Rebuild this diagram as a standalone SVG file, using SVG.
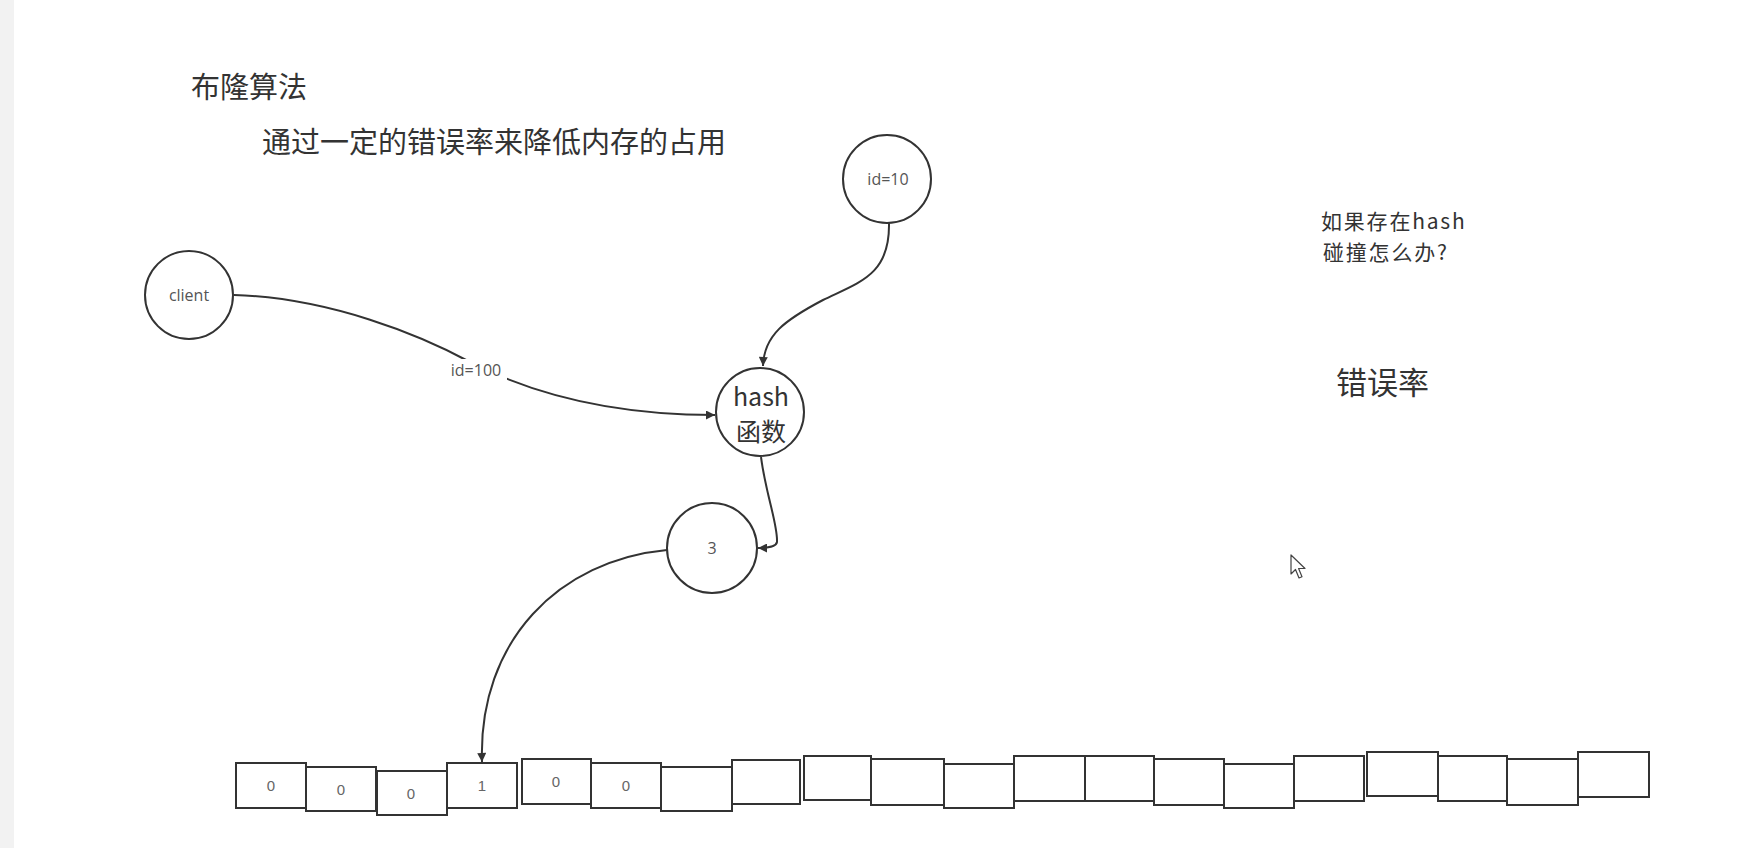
<svg xmlns="http://www.w3.org/2000/svg" width="1742" height="848" viewBox="0 0 1742 848">
<style>
.node{fill:#fff;stroke:#333;stroke-width:2}
.edge{fill:none;stroke:#333;stroke-width:2}
.cell{fill:#fff;stroke:#333;stroke-width:2}
.cjk{font-family:"Noto Sans CJK SC","Microsoft YaHei",sans-serif;fill:#333}
.small{font-family:"Open Sans","Liberation Sans","Noto Sans CJK SC",sans-serif;fill:#555;text-anchor:middle}
.bit{font-family:"Liberation Sans",sans-serif;font-size:15px;fill:#666;text-anchor:middle}
</style>
<defs>
<marker id="arr" viewBox="0 0 10 10" refX="10" refY="5" markerWidth="10" markerHeight="9" orient="auto" markerUnits="userSpaceOnUse">
<path d="M0,0 L10,5 L0,10 z" fill="#333"/>
</marker>
</defs>
<rect width="1742" height="848" fill="#fff"/>
<rect x="0" y="0" width="14" height="848" fill="#f2f2f2"/>

<g id="texts">
<text class="cjk" x="191" y="98" font-size="29">布隆算法</text>
<text class="cjk" x="262" y="153" font-size="29">通过一定的错误率来降低内存的占用</text>
<text class="cjk" x="1321" y="229" font-size="21" letter-spacing="1.8">如果存在hash</text>
<text class="cjk" x="1323" y="260" font-size="21" letter-spacing="1.8">碰撞怎么办?</text>
<text class="cjk" x="1336" y="394" font-size="31">错误率</text>
</g>

<g id="connectors">
<path class="edge" d="M234 295 C 330 298 420 335 470 362 C 540 398 620 415 715 415" marker-end="url(#arr)"/>
<rect x="445" y="359" width="62" height="22" fill="#fff"/>
<text class="small" x="476" y="376" font-size="16">id=100</text>
<path class="edge" d="M889 223 C 890 275 860 282 823 300 C 785 320 764 335 763 366" marker-end="url(#arr)"/>
<path class="edge" d="M761 457 C 766 495 778 525 777 542 Q 776 548 758 548" marker-end="url(#arr)"/>
<path class="edge" d="M667 550 C 560 560 478 640 482 762" marker-end="url(#arr)"/>
</g>

<g id="node-client">
<circle class="node" cx="189" cy="295" r="44"/>
<text class="small" x="189" y="301" font-size="16">client</text>
</g>
<g id="node-id10">
<circle class="node" cx="887" cy="179" r="44"/>
<text class="small" x="888" y="185" font-size="16">id=10</text>
</g>
<g id="node-hash">
<circle class="node" cx="760" cy="412" r="44"/>
<text class="cjk" x="761" y="406" font-size="25" text-anchor="middle">hash</text>
<text class="cjk" x="761" y="441" font-size="25" text-anchor="middle">函数</text>
</g>
<g id="node-3">
<circle class="node" cx="712" cy="548" r="45"/>
<text class="small" x="712" y="554" font-size="16">3</text>
</g>

<g id="bit-array">
<g id="cell-1"><rect class="cell" x="236" y="763" width="70" height="45"/><text class="bit" x="271" y="791">0</text></g>
<g id="cell-2"><rect class="cell" x="306" y="767" width="70" height="44"/><text class="bit" x="341" y="795">0</text></g>
<g id="cell-3"><rect class="cell" x="377" y="771" width="70" height="44"/><text class="bit" x="411" y="799">0</text></g>
<g id="cell-4"><rect class="cell" x="447" y="763" width="70" height="45"/><text class="bit" x="482" y="791">1</text></g>
<g id="cell-5"><rect class="cell" x="522" y="759" width="69" height="45"/><text class="bit" x="556" y="787">0</text></g>
<g id="cell-6"><rect class="cell" x="591" y="763" width="70" height="45"/><text class="bit" x="626" y="791">0</text></g>
<g id="cell-7"><rect class="cell" x="661" y="767" width="71" height="44"/></g>
<g id="cell-8"><rect class="cell" x="732" y="760" width="68" height="44"/></g>
<g id="cell-9"><rect class="cell" x="804" y="756" width="67" height="44"/></g>
<g id="cell-10"><rect class="cell" x="871" y="759" width="73" height="46"/></g>
<g id="cell-11"><rect class="cell" x="944" y="764" width="70" height="44"/></g>
<g id="cell-12"><rect class="cell" x="1014" y="756" width="71" height="45"/></g>
<g id="cell-13"><rect class="cell" x="1085" y="756" width="69" height="45"/></g>
<g id="cell-14"><rect class="cell" x="1154" y="759" width="70" height="46"/></g>
<g id="cell-15"><rect class="cell" x="1224" y="764" width="70" height="44"/></g>
<g id="cell-16"><rect class="cell" x="1294" y="756" width="70" height="45"/></g>
<g id="cell-17"><rect class="cell" x="1367" y="752" width="71" height="44"/></g>
<g id="cell-18"><rect class="cell" x="1438" y="756" width="69" height="45"/></g>
<g id="cell-19"><rect class="cell" x="1507" y="759" width="71" height="46"/></g>
<g id="cell-20"><rect class="cell" x="1578" y="752" width="71" height="45"/></g>
</g>

<g id="cursor">
<path d="M1291 555 L1291 574 L1295.5 569.5 L1299 578 L1302 576.8 L1298.6 568.5 L1305 568.5 Z" fill="#fff" stroke="#444" stroke-width="1.2" stroke-linejoin="round"/>
</g>
</svg>
